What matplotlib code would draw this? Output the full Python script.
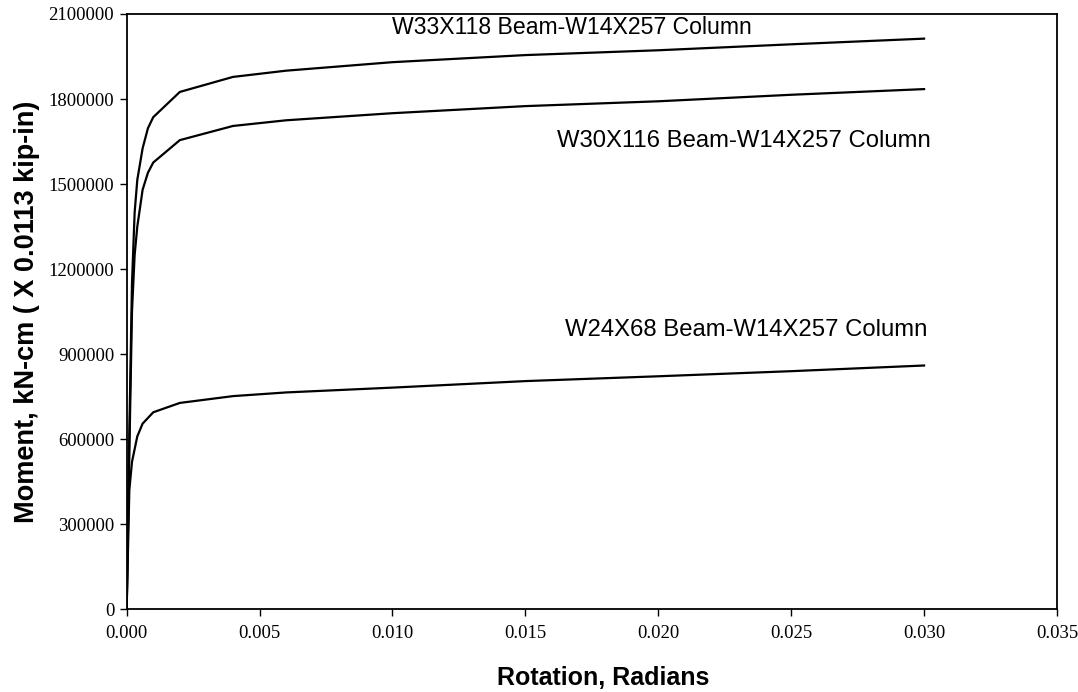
import matplotlib
matplotlib.use("Agg")
import matplotlib.pyplot as plt
from matplotlib.ticker import FixedLocator, FuncFormatter

# moment-rotation curves for three beam/column connections
rot_w33 = [0, 0.0001, 0.0002, 0.0003, 0.0004, 0.0006, 0.0008, 0.001, 0.002,
           0.004, 0.006, 0.010, 0.015, 0.020, 0.025, 0.030]
mom_w33 = [0, 620000, 1150000, 1400000, 1515000, 1626000, 1697000, 1736000, 1825000,
           1878000, 1900000, 1930000, 1955000, 1972000, 1993000, 2013000]

rot_w30 = [0, 0.0001, 0.0002, 0.0003, 0.0004, 0.0006, 0.0008, 0.001, 0.002,
           0.004, 0.006, 0.010, 0.015, 0.020, 0.025, 0.030]
mom_w30 = [0, 550000, 1050000, 1250000, 1350000, 1480000, 1540000, 1576000, 1655000,
           1705000, 1725000, 1750000, 1775000, 1792000, 1815000, 1835000]

rot_w24 = [0, 0.0001, 0.0002, 0.0004, 0.0006, 0.001, 0.002,
           0.004, 0.006, 0.010, 0.015, 0.020, 0.025, 0.030]
mom_w24 = [0, 420000, 520000, 610000, 655000, 695000, 728000,
           752000, 765000, 782000, 805000, 822000, 840000, 860000]

labels = ["W33X118 Beam-W14X257 Column",
          "W30X116 Beam-W14X257 Column",
          "W24X68 Beam-W14X257 Column"]
label_pos = [(0.0100, 2051000), (0.0162, 1652000), (0.0165, 986000)]
label_size = [16.6, 17.2, 17.2]

x_ticks = [0.000, 0.005, 0.010, 0.015, 0.020, 0.025, 0.030, 0.035]
y_ticks = [0, 300000, 600000, 900000, 1200000, 1500000, 1800000, 2100000]

fig = plt.figure(figsize=(10.78, 6.92), dpi=100)
ax = fig.add_axes([0.1175, 0.1195, 0.863, 0.8603])

for r, m in [(rot_w33, mom_w33), (rot_w30, mom_w30), (rot_w24, mom_w24)]:
    ax.plot(r, m, color="black", lw=1.6, solid_joinstyle="round")

for txt, (x, y), fs in zip(labels, label_pos, label_size):
    ax.text(x, y, txt, ha="left", va="center", fontsize=fs,
            family="Liberation Sans")

ax.set_xlim(0, 0.035)
ax.set_ylim(0, 2100000)
ax.xaxis.set_major_locator(FixedLocator(x_ticks))
ax.yaxis.set_major_locator(FixedLocator(y_ticks))
ax.xaxis.set_major_formatter(FuncFormatter(lambda v, p: f"{v:.3f}"))
ax.yaxis.set_major_formatter(FuncFormatter(lambda v, p: f"{int(round(v))}"))
for lab in ax.get_xticklabels() + ax.get_yticklabels():
    lab.set_family("Liberation Serif")
    lab.set_fontsize(13.5)
ax.tick_params(direction="out", length=5, width=1, color="black")
ax.tick_params(axis="x", pad=6)
ax.tick_params(axis="y", pad=4)
for s in ax.spines.values():
    s.set_linewidth(1.3)

ax.set_xlabel("Rotation, Radians", fontsize=18, fontweight="bold",
              family="Liberation Sans")
ax.xaxis.set_label_coords(0.512, -0.096)
ax.set_ylabel("Moment, kN-cm ( X 0.0113 kip-in)", fontsize=19.5, fontweight="bold",
              family="Liberation Sans", labelpad=6)

fig.savefig("out.png", dpi=100)
